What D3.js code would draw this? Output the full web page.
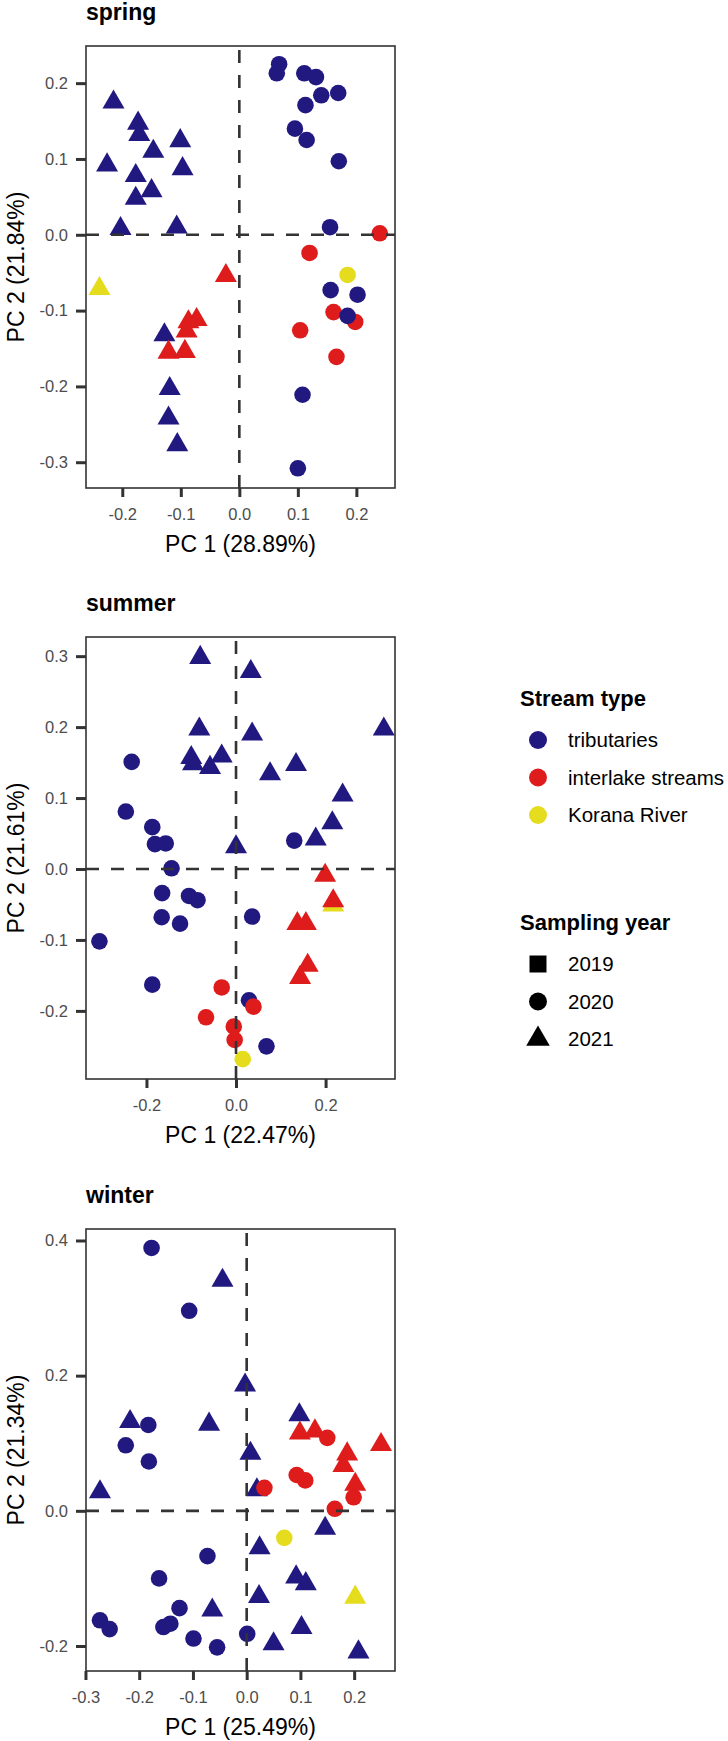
<!DOCTYPE html>
<html>
<head>
<meta charset="utf-8">
<script src="https://cdn.jsdelivr.net/npm/d3@7"></script>
<style>
  body { margin: 0; background: #fff; }
  svg { display: block; font-family: "Liberation Sans", Arial, sans-serif; }
</style>
</head>
<body>
<script>
// PCA scores per season: [PC1, PC2, stream type, sampling year]
const springPoints = [
  [-0.215, 0.175, "trib", 2021], [-0.173, 0.147, "trib", 2021], [-0.171, 0.132, "trib", 2021],
  [-0.147, 0.110, "trib", 2021], [-0.101, 0.124, "trib", 2021], [-0.226, 0.092, "trib", 2021],
  [-0.177, 0.078, "trib", 2021], [-0.097, 0.087, "trib", 2021], [-0.150, 0.058, "trib", 2021],
  [-0.177, 0.048, "trib", 2021], [-0.203, 0.008, "trib", 2021], [-0.107, 0.010, "trib", 2021],
  [-0.128, -0.132, "trib", 2021], [-0.119, -0.203, "trib", 2021], [-0.121, -0.242, "trib", 2021],
  [-0.106, -0.277, "trib", 2021],
  [-0.023, -0.054, "inter", 2021], [-0.073, -0.112, "inter", 2021], [-0.087, -0.115, "inter", 2021],
  [-0.090, -0.127, "inter", 2021], [-0.121, -0.155, "inter", 2021], [-0.093, -0.154, "inter", 2021],
  [0.120, -0.024, "inter", 2020], [0.161, -0.102, "inter", 2020], [0.198, -0.115, "inter", 2020],
  [0.104, -0.126, "inter", 2020], [0.166, -0.161, "inter", 2020], [0.240, 0.002, "inter", 2020],
  [0.068, 0.225, "trib", 2020], [0.064, 0.213, "trib", 2020], [0.111, 0.213, "trib", 2020],
  [0.131, 0.208, "trib", 2020], [0.140, 0.184, "trib", 2020], [0.169, 0.187, "trib", 2020],
  [0.113, 0.171, "trib", 2020], [0.095, 0.140, "trib", 2020], [0.115, 0.125, "trib", 2020],
  [0.170, 0.097, "trib", 2020], [0.155, 0.010, "trib", 2020], [0.156, -0.073, "trib", 2020],
  [0.202, -0.079, "trib", 2020], [0.185, -0.107, "trib", 2020], [0.108, -0.211, "trib", 2020],
  [0.100, -0.308, "trib", 2020],
  [-0.239, -0.071, "korana", 2021], [0.185, -0.053, "korana", 2020]
]

const summerPoints = [
  [0.217, -0.051, "korana", 2021], [0.015, -0.268, "korana", 2020],
  [-0.233, 0.151, "trib", 2020], [-0.246, 0.081, "trib", 2020], [-0.187, 0.059, "trib", 2020],
  [-0.181, 0.035, "trib", 2020], [-0.157, 0.036, "trib", 2020], [-0.144, 0.001, "trib", 2020],
  [-0.165, -0.034, "trib", 2020], [-0.105, -0.038, "trib", 2020], [-0.086, -0.044, "trib", 2020],
  [-0.166, -0.068, "trib", 2020], [-0.125, -0.077, "trib", 2020], [-0.305, -0.102, "trib", 2020],
  [-0.187, -0.163, "trib", 2020], [0.130, 0.040, "trib", 2020], [0.036, -0.067, "trib", 2020],
  [0.029, -0.185, "trib", 2020], [0.068, -0.250, "trib", 2020],
  [-0.080, 0.298, "trib", 2021], [0.033, 0.278, "trib", 2021], [-0.082, 0.197, "trib", 2021],
  [0.036, 0.190, "trib", 2021], [-0.100, 0.157, "trib", 2021], [-0.096, 0.148, "trib", 2021],
  [-0.058, 0.143, "trib", 2021], [-0.032, 0.159, "trib", 2021], [0.076, 0.134, "trib", 2021],
  [0.134, 0.147, "trib", 2021], [0.238, 0.104, "trib", 2021], [0.215, 0.065, "trib", 2021],
  [0.178, 0.042, "trib", 2021], [0.000, 0.031, "trib", 2021], [0.330, 0.197, "trib", 2021],
  [0.199, -0.009, "inter", 2021], [0.217, -0.045, "inter", 2021], [0.137, -0.077, "inter", 2021],
  [0.156, -0.077, "inter", 2021], [0.160, -0.136, "inter", 2021], [0.143, -0.153, "inter", 2021],
  [-0.032, -0.167, "inter", 2020], [0.039, -0.194, "inter", 2020], [-0.067, -0.209, "inter", 2020],
  [-0.005, -0.222, "inter", 2020], [-0.003, -0.241, "inter", 2020]
]

const winterPoints = [
  [-0.177, 0.389, "trib", 2020], [-0.107, 0.296, "trib", 2020], [-0.183, 0.127, "trib", 2020],
  [-0.225, 0.097, "trib", 2020], [-0.182, 0.073, "trib", 2020], [-0.073, -0.067, "trib", 2020],
  [-0.163, -0.100, "trib", 2020], [-0.125, -0.144, "trib", 2020], [-0.273, -0.162, "trib", 2020],
  [-0.255, -0.175, "trib", 2020], [-0.142, -0.167, "trib", 2020], [-0.155, -0.172, "trib", 2020],
  [-0.099, -0.189, "trib", 2020], [-0.055, -0.202, "trib", 2020], [0.001, -0.182, "trib", 2020],
  [-0.045, 0.341, "trib", 2021], [-0.003, 0.186, "trib", 2021], [-0.070, 0.128, "trib", 2021],
  [0.098, 0.142, "trib", 2021], [0.007, 0.085, "trib", 2021], [0.019, 0.031, "trib", 2021],
  [-0.217, 0.132, "trib", 2021], [-0.273, 0.028, "trib", 2021], [0.146, -0.026, "trib", 2021],
  [0.024, -0.055, "trib", 2021], [0.092, -0.098, "trib", 2021], [0.110, -0.108, "trib", 2021],
  [0.023, -0.127, "trib", 2021], [-0.064, -0.147, "trib", 2021], [0.050, -0.197, "trib", 2021],
  [0.102, -0.173, "trib", 2021], [0.208, -0.209, "trib", 2021],
  [0.099, 0.115, "inter", 2021], [0.127, 0.118, "inter", 2021], [0.187, 0.084, "inter", 2021],
  [0.180, 0.067, "inter", 2021], [0.202, 0.039, "inter", 2021], [0.250, 0.098, "inter", 2021],
  [0.150, 0.108, "inter", 2020], [0.093, 0.053, "inter", 2020], [0.109, 0.045, "inter", 2020],
  [0.033, 0.034, "inter", 2020], [0.164, 0.003, "inter", 2020], [0.199, 0.020, "inter", 2020],
  [0.070, -0.040, "korana", 2020], [0.202, -0.128, "korana", 2021]
]

const springXTicks = [-0.2, -0.1, 0.0, 0.1, 0.2]
const springYTicks = [-0.3, -0.2, -0.1, 0.0, 0.1, 0.2]
const summerXTicks = [-0.2, 0.0, 0.2]
const summerYTicks = [-0.2, -0.1, 0.0, 0.1, 0.2, 0.3]
const winterXTicks = [-0.3, -0.2, -0.1, 0.0, 0.1, 0.2]
const winterYTicks = [-0.2, 0.0, 0.2, 0.4]

const streamTypes = ["trib", "inter", "korana"]
const streamLabels = ["tributaries", "interlake streams", "Korana River"]
const samplingYears = [2019, 2020, 2021]

const colors = { trib: "#211980", inter: "#DE1C1C", korana: "#E6DC1E" }
const shapes = { 2019: d3.symbolSquare, 2020: d3.symbolCircle, 2021: d3.symbolTriangle }
const shapeSize = { 2019: 240, 2020: 216, 2021: 210 }

const panels = [
  { title: "spring", points: springPoints, xTicks: springXTicks, yTicks: springYTicks,
    xLabel: "PC 1 (28.89%)", yLabel: "PC 2 (21.84%)",
    xDomain: [-0.262, 0.266], yDomain: [-0.334, 0.249], top: 46 },
  { title: "summer", points: summerPoints, xTicks: summerXTicks, yTicks: summerYTicks,
    xLabel: "PC 1 (22.47%)", yLabel: "PC 2 (21.61%)",
    xDomain: [-0.335, 0.355], yDomain: [-0.296, 0.327], top: 637 },
  { title: "winter", points: winterPoints, xTicks: winterXTicks, yTicks: winterYTicks,
    xLabel: "PC 1 (25.49%)", yLabel: "PC 2 (21.34%)",
    xDomain: [-0.299, 0.276], yDomain: [-0.237, 0.417], top: 1229 }
]

const width = 728
const height = 1741
const left = 86
const right = 395
const panelHeight = 442
const ink = "#333333"

const svg = d3.select("body")
  .append("svg")
  .attr("width", width)
  .attr("height", height)

// tick labels like ggplot: "0.0", "-0.2"
const fmt = d => d.toFixed(1)

panels.forEach(p => drawPanel(svg, p))
drawLegend(svg)

function drawPanel(svg, p) {
  const top = p.top
  const bottom = top + panelHeight
  const x = d3.scaleLinear().domain(p.xDomain).range([left, right])
  const y = d3.scaleLinear().domain(p.yDomain).range([bottom, top])

  const g = svg.append("g")

  // points
  g.selectAll(".pt")
    .data(p.points)
    .enter()
    .append("path")
    .attr("class", "pt")
    .attr("transform", d => `translate(${x(d[0])},${y(d[1])})`)
    .attr("d", d => d3.symbol(shapes[d[3]], shapeSize[d[3]])())
    .attr("fill", d => colors[d[2]])

  // dashed reference lines at zero (drawn over the points)
  g.append("line")
    .attr("x1", left).attr("x2", right)
    .attr("y1", y(0)).attr("y2", y(0))
    .attr("stroke", ink).attr("stroke-width", 2.6)
    .attr("stroke-dasharray", "13,12")
  g.append("line")
    .attr("x1", x(0)).attr("x2", x(0))
    .attr("y1", bottom).attr("y2", top)
    .attr("stroke", ink).attr("stroke-width", 2.6)
    .attr("stroke-dasharray", "13,12")

  // panel border
  g.append("rect")
    .attr("x", left).attr("y", top)
    .attr("width", right - left).attr("height", panelHeight)
    .attr("fill", "none")
    .attr("stroke", ink)
    .attr("stroke-width", 1.6)

  // axes
  const xAxis = g.append("g")
    .attr("transform", `translate(0,${bottom})`)
    .call(d3.axisBottom(x).tickValues(p.xTicks).tickFormat(fmt).tickSize(9).tickPadding(11))
  const yAxis = g.append("g")
    .attr("transform", `translate(${left},0)`)
    .call(d3.axisLeft(y).tickValues(p.yTicks).tickFormat(fmt).tickSize(10).tickPadding(8))

  ;[xAxis, yAxis].forEach(a => {
    a.select(".domain").remove()
    a.selectAll(".tick line").attr("stroke", ink).attr("stroke-width", 3)
    a.selectAll(".tick text")
      .attr("fill", "#4D4D4D")
      .style("font-size", "16.5px")
      .style("font-family", "'Liberation Sans', Arial, sans-serif")
  })

  // titles
  g.append("text")
    .attr("x", left)
    .attr("y", top - 26)
    .attr("font-size", 23)
    .attr("font-weight", "bold")
    .attr("fill", "#000")
    .text(p.title)

  g.append("text")
    .attr("x", (left + right) / 2)
    .attr("y", bottom + 64)
    .attr("text-anchor", "middle")
    .attr("font-size", 23)
    .attr("fill", "#000")
    .text(p.xLabel)

  g.append("text")
    .attr("transform", `translate(24,${(top + bottom) / 2}) rotate(-90)`)
    .attr("text-anchor", "middle")
    .attr("font-size", 23)
    .attr("fill", "#000")
    .text(p.yLabel)
}

function drawLegend(svg) {
  const keyX = 538
  const labelX = 568
  const g = svg.append("g")

  g.append("text")
    .attr("x", 520).attr("y", 706)
    .attr("font-size", 22).attr("font-weight", "bold")
    .text("Stream type")

  streamTypes.forEach((s, i) => {
    const cy = 740 + i * 37.5
    g.append("path")
      .attr("transform", `translate(${keyX},${cy})`)
      .attr("d", d3.symbol(d3.symbolCircle, 254)())
      .attr("fill", colors[s])
    g.append("text")
      .attr("x", labelX).attr("y", cy)
      .attr("dy", "0.35em")
      .attr("font-size", 20.5)
      .text(streamLabels[i])
  })

  g.append("text")
    .attr("x", 520).attr("y", 930)
    .attr("font-size", 22).attr("font-weight", "bold")
    .text("Sampling year")

  samplingYears.forEach((yr, i) => {
    const cy = 964 + i * 37.5
    g.append("path")
      .attr("transform", `translate(${keyX},${cy})`)
      .attr("d", d3.symbol(shapes[yr], yr === 2021 ? 240 : (yr === 2019 ? 289 : 254))())
      .attr("fill", "#000")
    g.append("text")
      .attr("x", labelX).attr("y", cy)
      .attr("dy", "0.35em")
      .attr("font-size", 20.5)
      .text(yr)
  })
}
</script>
</body>
</html>
